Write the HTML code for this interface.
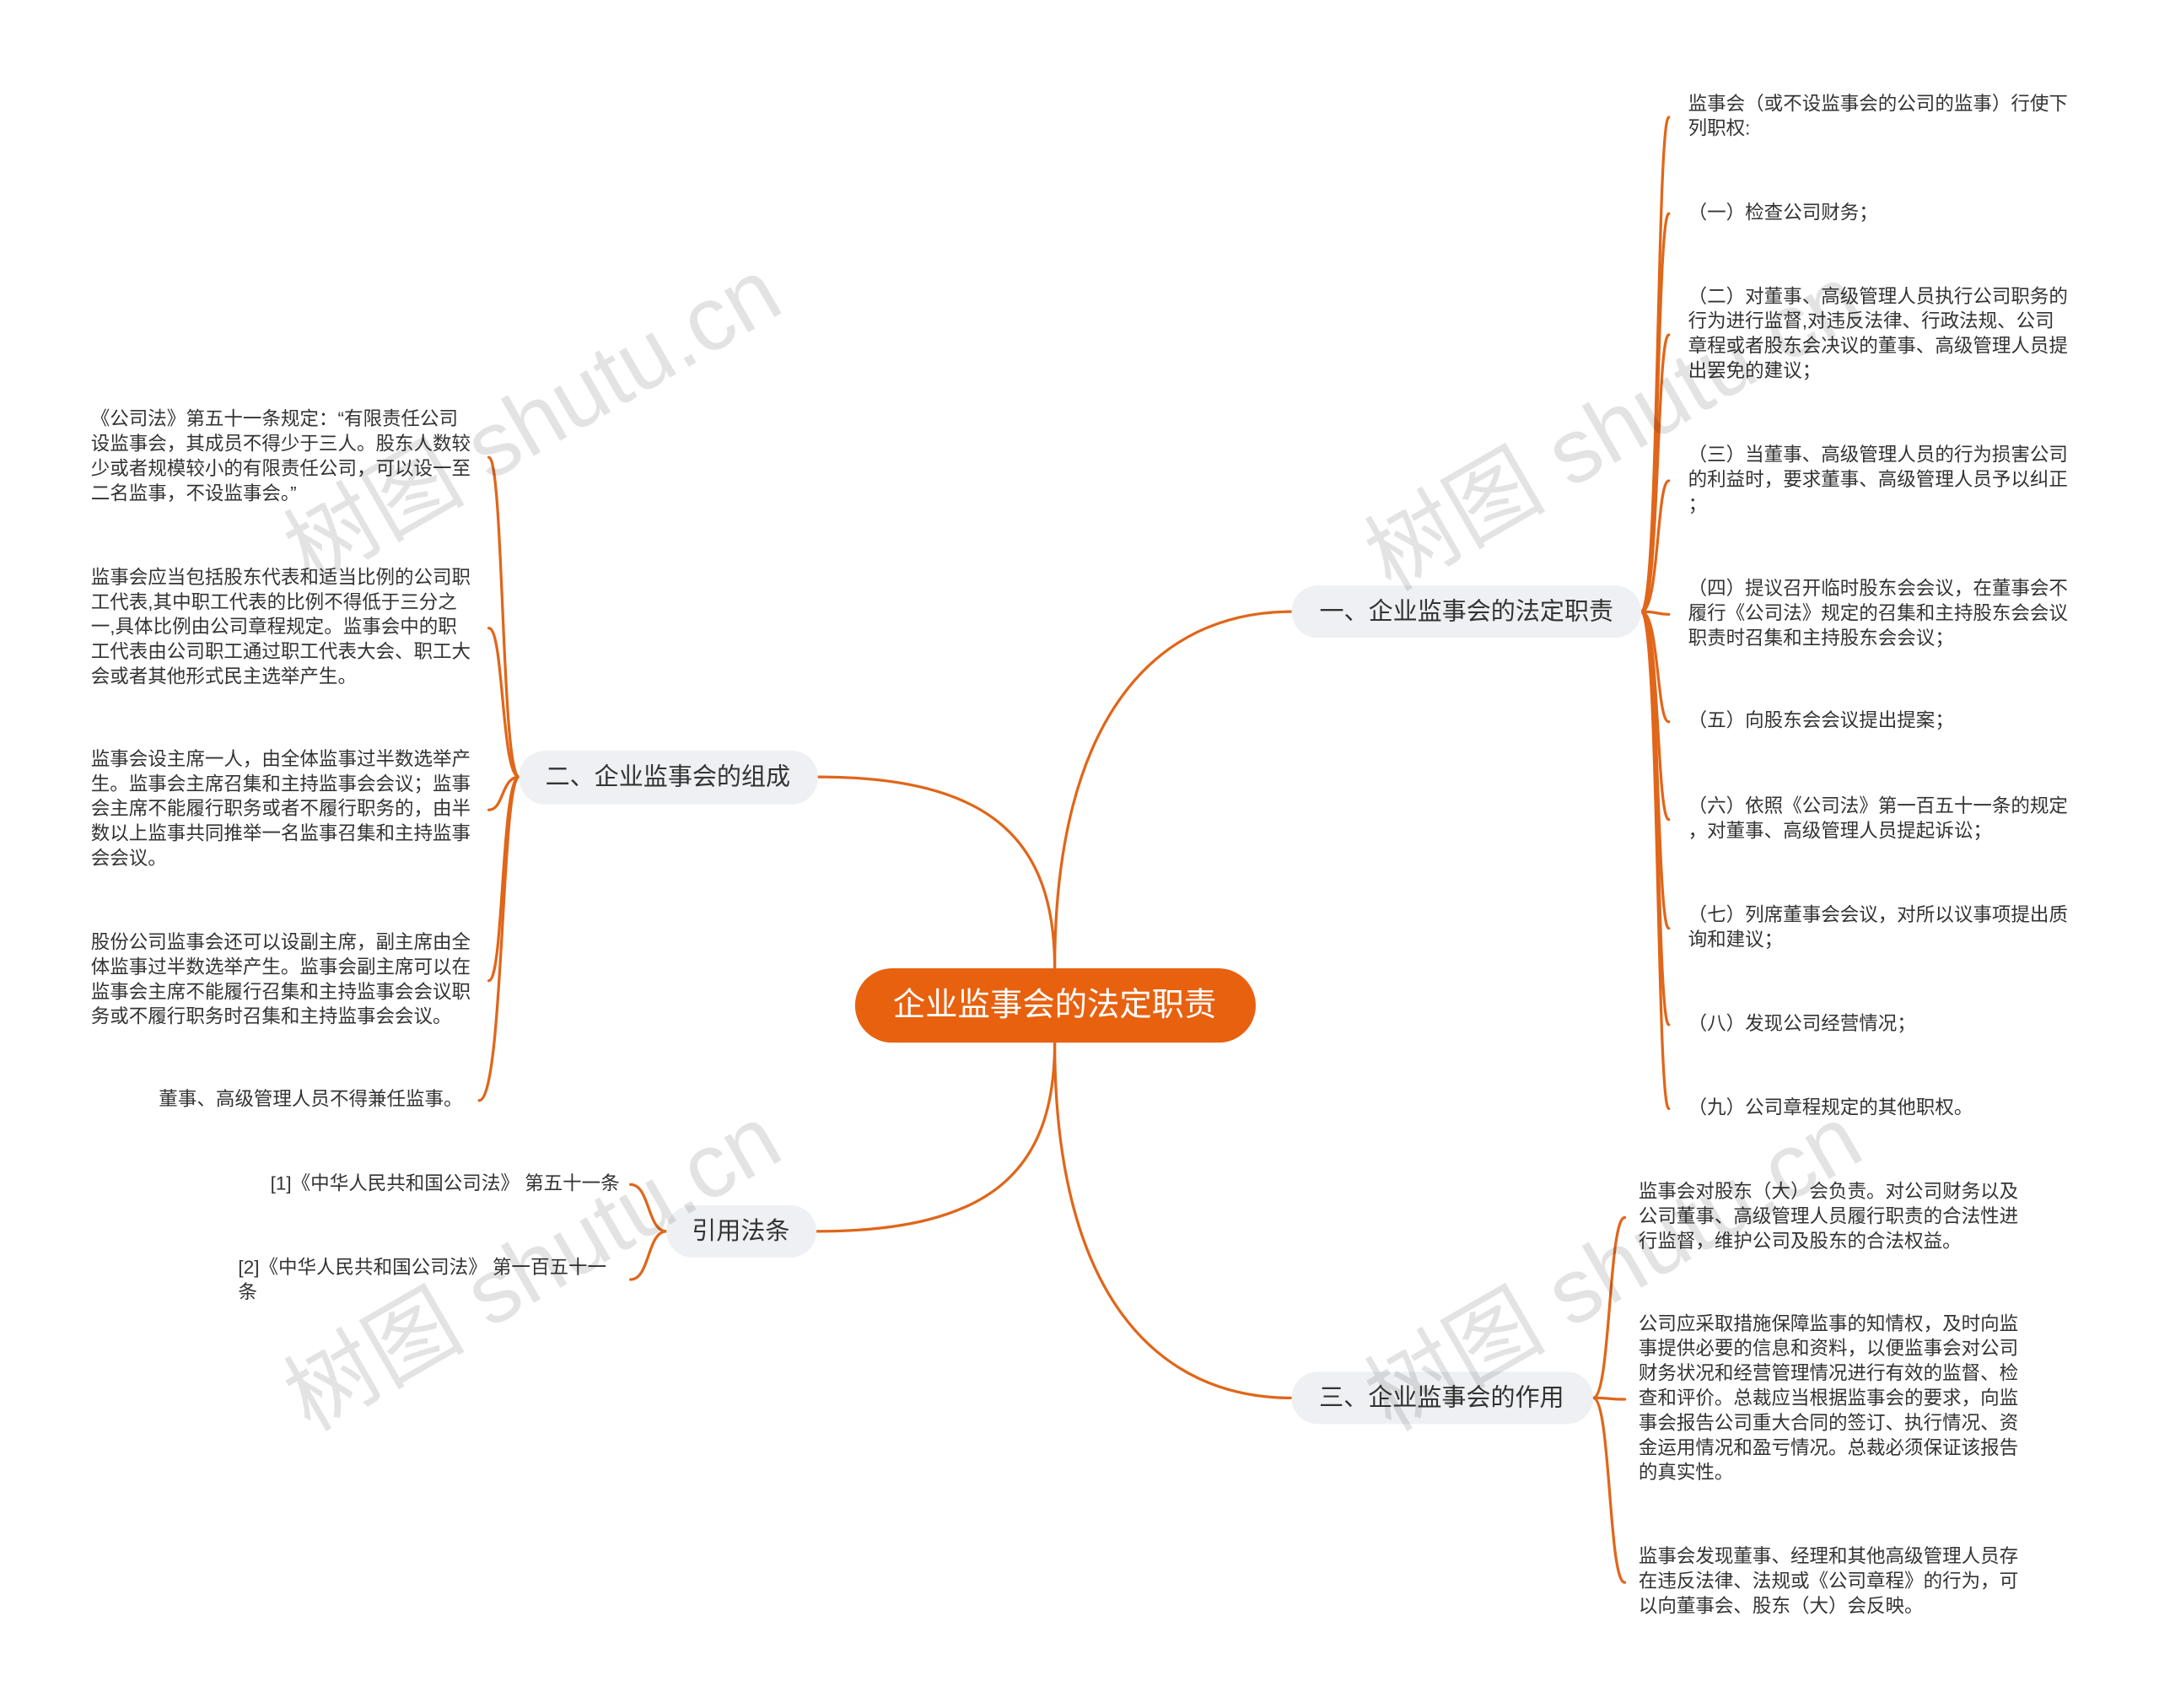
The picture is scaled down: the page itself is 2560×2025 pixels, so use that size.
<!DOCTYPE html>
<html><head><meta charset="utf-8"><style>
html,body{margin:0;padding:0;background:#fff;}
svg{display:block;}
text{font-family:"Liberation Sans","Noto Sans CJK SC",sans-serif;}
.l{font-size:13.8px;fill:#333;dominant-baseline:middle;}
.b{font-size:17.8px;fill:#333;dominant-baseline:middle;text-anchor:middle;}
.w{font-size:66px;fill:rgba(0,0,0,0.11);}
</style></head><body>
<svg width="2560" height="2025" viewBox="0 0 1568 1240" xmlns="http://www.w3.org/2000/svg">
<g fill="none" stroke="#e0661a" stroke-width="2" stroke-linecap="round">
<path d="M766,703 C766,520 840,444 938,444"/>
<path d="M766,703 C766,610 720,564 594,564"/>
<path d="M766,757 C766,850 720,894 593,894"/>
<path d="M766,757 C766,940 840,1015 938,1015"/>
<g>
<path d="M1192,444 C1205,444 1203,85 1212,85"/>
<path d="M1192,444 C1205,444 1203,155 1212,155"/>
<path d="M1192,444 C1205,444 1203,243 1212,243"/>
<path d="M1192,444 C1205,444 1203,349 1212,349"/>
<path d="M1192,444 C1205,444 1203,446 1212,446"/>
<path d="M1192,444 C1205,444 1203,524 1212,524"/>
<path d="M1192,444 C1205,444 1203,595 1212,595"/>
<path d="M1192,444 C1205,444 1203,674 1212,674"/>
<path d="M1192,444 C1205,444 1203,744 1212,744"/>
<path d="M1192,444 C1205,444 1203,805 1212,805"/>
</g>
<g>
<path d="M377,564 C364,564 366,332 355,332"/>
<path d="M377,564 C364,564 366,456 355,456"/>
<path d="M377,564 C364,564 366,588 355,588"/>
<path d="M377,564 C364,564 366,712 355,712"/>
<path d="M377,564 C364,564 366,799 348,799"/>
</g>
<path d="M484,894 C470,894 472,860 458,860"/>
<path d="M484,894 C470,894 472,929 458,929"/>
<path d="M1157,1015 C1170,1015 1168,884 1180,884"/>
<path d="M1157,1015 C1170,1015 1168,1016 1180,1016"/>
<path d="M1157,1015 C1170,1015 1168,1149 1180,1149"/>
</g>

<rect x="621" y="703" width="291" height="54" rx="27" fill="#e8610f"/>
<text x="766" y="731" style="font-size:23.5px;fill:#fff;dominant-baseline:middle;text-anchor:middle">企业监事会的法定职责</text>

<rect x="938" y="425" width="254" height="38" rx="19" fill="#eef0f3"/>
<text class="b" x="1065" y="445">一、企业监事会的法定职责</text>
<rect x="377" y="545" width="217" height="39" rx="19" fill="#eef0f3"/>
<text class="b" x="485" y="565">二、企业监事会的组成</text>
<rect x="484" y="875" width="109" height="38" rx="19" fill="#eef0f3"/>
<text class="b" x="538" y="895">引用法条</text>
<rect x="938" y="996" width="219" height="38" rx="19" fill="#eef0f3"/>
<text class="b" x="1047" y="1016">三、企业监事会的作用</text>

<g>
<text class="l" x="1226" y="76">监事会（或不设监事会的公司的监事）行使下</text>
<text class="l" x="1226" y="94">列职权:</text>
<text class="l" x="1226" y="155">（一）检查公司财务；</text>
<text class="l" x="1226" y="216">（二）对董事、高级管理人员执行公司职务的</text>
<text class="l" x="1226" y="234">行为进行监督,对违反法律、行政法规、公司</text>
<text class="l" x="1226" y="252">章程或者股东会决议的董事、高级管理人员提</text>
<text class="l" x="1226" y="270">出罢免的建议；</text>
<text class="l" x="1226" y="331">（三）当董事、高级管理人员的行为损害公司</text>
<text class="l" x="1226" y="349">的利益时，要求董事、高级管理人员予以纠正</text>
<text class="l" x="1226" y="367">；</text>
<text class="l" x="1226" y="428">（四）提议召开临时股东会会议，在董事会不</text>
<text class="l" x="1226" y="446">履行《公司法》规定的召集和主持股东会会议</text>
<text class="l" x="1226" y="464">职责时召集和主持股东会会议；</text>
<text class="l" x="1226" y="524">（五）向股东会会议提出提案；</text>
<text class="l" x="1226" y="586">（六）依照《公司法》第一百五十一条的规定</text>
<text class="l" x="1226" y="604">，对董事、高级管理人员提起诉讼；</text>
<text class="l" x="1226" y="665">（七）列席董事会会议，对所以议事项提出质</text>
<text class="l" x="1226" y="683">询和建议；</text>
<text class="l" x="1226" y="744">（八）发现公司经营情况；</text>
<text class="l" x="1226" y="805">（九）公司章程规定的其他职权。</text>

<text class="l" x="66" y="305">《公司法》第五十一条规定：“有限责任公司</text>
<text class="l" x="66" y="323">设监事会，其成员不得少于三人。股东人数较</text>
<text class="l" x="66" y="341">少或者规模较小的有限责任公司，可以设一至</text>
<text class="l" x="66" y="359">二名监事，不设监事会。”</text>
<text class="l" x="66" y="420">监事会应当包括股东代表和适当比例的公司职</text>
<text class="l" x="66" y="438">工代表,其中职工代表的比例不得低于三分之</text>
<text class="l" x="66" y="456">一,具体比例由公司章程规定。监事会中的职</text>
<text class="l" x="66" y="474">工代表由公司职工通过职工代表大会、职工大</text>
<text class="l" x="66" y="492">会或者其他形式民主选举产生。</text>
<text class="l" x="66" y="552">监事会设主席一人，由全体监事过半数选举产</text>
<text class="l" x="66" y="570">生。监事会主席召集和主持监事会会议；监事</text>
<text class="l" x="66" y="588">会主席不能履行职务或者不履行职务的，由半</text>
<text class="l" x="66" y="606">数以上监事共同推举一名监事召集和主持监事</text>
<text class="l" x="66" y="624">会会议。</text>
<text class="l" x="66" y="685">股份公司监事会还可以设副主席，副主席由全</text>
<text class="l" x="66" y="703">体监事过半数选举产生。监事会副主席可以在</text>
<text class="l" x="66" y="721">监事会主席不能履行召集和主持监事会会议职</text>
<text class="l" x="66" y="739">务或不履行职务时召集和主持监事会会议。</text>
<text class="l" x="336" y="799" text-anchor="end">董事、高级管理人员不得兼任监事。</text>

<text class="l" x="450" y="860" text-anchor="end">[1]《中华人民共和国公司法》 第五十一条</text>
<text class="l" x="173" y="921">[2]《中华人民共和国公司法》 第一百五十一</text>
<text class="l" x="173" y="939">条</text>

<text class="l" x="1190" y="866">监事会对股东（大）会负责。对公司财务以及</text>
<text class="l" x="1190" y="884">公司董事、高级管理人员履行职责的合法性进</text>
<text class="l" x="1190" y="902">行监督，维护公司及股东的合法权益。</text>
<text class="l" x="1190" y="962">公司应采取措施保障监事的知情权，及时向监</text>
<text class="l" x="1190" y="980">事提供必要的信息和资料，以便监事会对公司</text>
<text class="l" x="1190" y="998">财务状况和经营管理情况进行有效的监督、检</text>
<text class="l" x="1190" y="1016">查和评价。总裁应当根据监事会的要求，向监</text>
<text class="l" x="1190" y="1034">事会报告公司重大合同的签订、执行情况、资</text>
<text class="l" x="1190" y="1052">金运用情况和盈亏情况。总裁必须保证该报告</text>
<text class="l" x="1190" y="1070">的真实性。</text>
<text class="l" x="1190" y="1131">监事会发现董事、经理和其他高级管理人员存</text>
<text class="l" x="1190" y="1149">在违反法律、法规或《公司章程》的行为，可</text>
<text class="l" x="1190" y="1167">以向董事会、股东（大）会反映。</text>
</g>

<text class="w" transform="translate(225,425) rotate(-30)">树图 shutu.cn</text>
<text class="w" transform="translate(1010,430) rotate(-30)">树图 shutu.cn</text>
<text class="w" transform="translate(225,1040) rotate(-30)">树图 shutu.cn</text>
<text class="w" transform="translate(1010,1040) rotate(-30)">树图 shutu.cn</text>
</svg>
</body></html>
